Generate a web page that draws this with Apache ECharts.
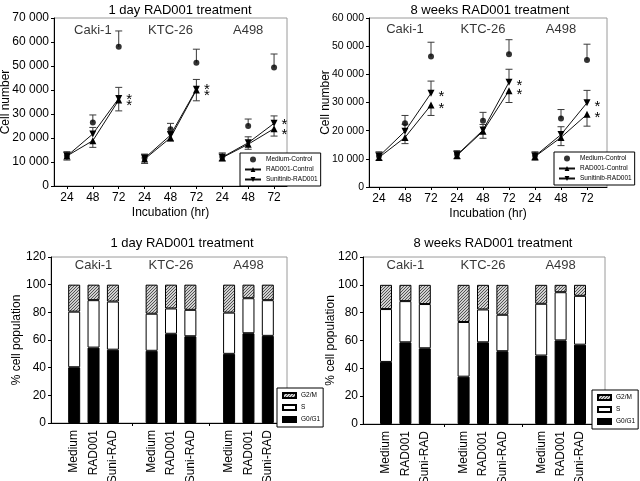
<!DOCTYPE html>
<html>
<head>
<meta charset="utf-8">
<script src="https://cdn.jsdelivr.net/npm/echarts@6/dist/echarts.min.js"></script>
<style>
  html, body { margin: 0; padding: 0; background: #fff; }
  #main { width: 640px; height: 481px; }
</style>
</head>
<body>
<div id="main"></div>
<script>
const FONT = "'Liberation Sans', Arial, sans-serif";

const cellLines = ['Caki-1', 'KTC-26', 'A498'];
const hourLabels = ['24', '48', '72'];
const treatLabels = ['Medium', 'RAD001', 'Suni-RAD'];
const growthNames = ['Medium-Control', 'RAD001-Control', 'Sunitinib-RAD001'];
const phaseNames = ['G0/G1', 'S', 'G2/M'];

// cell numbers, 24/48/72 h for Caki-1, KTC-26, A498
const dayMedium = [12600, 26500, 58000, 11800, 23600, 51400, 12200, 25000, 49400];
const dayMediumErr = [1700, 3100, 6600, 1500, 2500, 5600, 1600, 2900, 5600];
const dayRad = [12500, 18900, 35800, 11200, 20100, 40000, 11800, 17400, 23900];
const dayRadErr = [1700, 2800, 4500, 1800, 1400, 4500, 1400, 2100, 3100];
const daySuni = [12500, 21700, 36500, 11600, 21200, 40300, 12000, 18000, 26100];
const daySuniErr = [1500, 2700, 4600, 1500, 1500, 4100, 1300, 2500, 3100];

const weekMedium = [11000, 22600, 46300, 11600, 23500, 47100, 11200, 24300, 45100];
const weekMediumErr = [1500, 2800, 5100, 1300, 3000, 5200, 1300, 3200, 5600];
const weekRad = [10500, 17600, 29100, 11200, 19800, 34200, 10800, 17600, 25800];
const weekRadErr = [1000, 2200, 3700, 1200, 2500, 4200, 1300, 2900, 4200];
const weekSuni = [10900, 19800, 33300, 11400, 20200, 37200, 11000, 18600, 29900];
const weekSuniErr = [1300, 2500, 4300, 1200, 2000, 4600, 1100, 2800, 4400];

// cell cycle %, Medium/RAD001/Suni-RAD for Caki-1, KTC-26, A498
const dayG0G1 = [40.3, 54.5, 53.0, 52.2, 64.5, 62.7, 50.0, 64.9, 63.0];
const dayS = [40.2, 34.3, 34.8, 26.8, 18.3, 19.1, 29.8, 25.3, 25.8];
const dayG2M = [19.5, 11.2, 12.2, 21.0, 17.2, 18.2, 20.2, 9.8, 11.2];
const weekG0G1 = [44.6, 58.7, 54.4, 34.0, 58.7, 52.3, 49.2, 60.1, 57.0];
const weekS = [38.0, 29.6, 31.8, 39.3, 23.6, 26.2, 37.2, 34.6, 35.1];
const weekG2M = [17.4, 11.7, 13.8, 26.7, 17.7, 21.5, 13.6, 5.3, 7.9];

// hatch for G2/M
const hatch = document.createElement('canvas');
hatch.width = 3; hatch.height = 3;
const hc = hatch.getContext('2d');
hc.fillStyle = '#d0d0d0';
hc.fillRect(0, 0, 3, 3);
hc.strokeStyle = '#333';
hc.lineWidth = 0.8;
hc.beginPath();
hc.moveTo(0, 3); hc.lineTo(3, 0);
hc.moveTo(-1, 1); hc.lineTo(1, -1);
hc.moveTo(2, 4); hc.lineTo(4, 2);
hc.stroke();

const grids = [], xAxes = [], yAxes = [], series = [], titles = [], legends = [];

function fmtNum(v) {
	return String(v).replace(/\B(?=(\d{3})+(?!\d))/g, ' ');
}

// frame grid (border + visible y axis + x axis line) and a data grid inside it
function addPanel(p) {
	const fi = grids.length;
	grids.push({ left: p.left, top: p.top, width: p.width, height: p.height, show: true, borderColor: '#9a9a9a', borderWidth: 1, outerBoundsMode: 'none' });
	xAxes.push({
		gridIndex: fi, type: 'value', min: 0, max: 1,
		axisLine: { show: true, lineStyle: { color: '#000', width: 1 } },
		axisTick: { show: false }, axisLabel: { show: false }, splitLine: { show: false },
		name: p.xName || '', nameLocation: 'middle', nameGap: p.xNameGap || 0, nameMoveOverlap: false,
		nameTextStyle: { fontSize: 12, color: '#000', fontFamily: FONT }
	});
	yAxes.push({
		gridIndex: fi, type: 'value', min: 0, max: p.max, interval: p.interval,
		axisLine: { show: true, lineStyle: { color: '#000', width: 1 } },
		axisTick: { show: true, length: 3, lineStyle: { color: '#000' } },
		axisLabel: { color: '#000', fontSize: p.labelSize || 12, margin: 5, fontFamily: FONT, formatter: fmtNum },
		splitLine: { show: false },
		name: p.yName, nameLocation: 'middle', nameGap: p.yNameGap, nameMoveOverlap: false,
		nameTextStyle: { fontSize: 12, color: '#000', fontFamily: FONT }
	});
	const di = grids.length;
	grids.push({ left: p.dataLeft, top: p.top, width: p.dataWidth, height: p.height, outerBoundsMode: 'none' });
	xAxes.push({
		gridIndex: di, type: 'category', data: p.cats, boundaryGap: true,
		axisLine: { show: false },
		axisTick: { show: true, alignWithLabel: true, length: 3, lineStyle: { color: '#000' }, interval: p.tickInterval || 0 },
		axisLabel: { color: '#000', fontSize: 12, fontFamily: FONT, margin: p.xLabelMargin || 6, rotate: p.rotate || 0, interval: 0 },
		splitLine: { show: false }
	});
	yAxes.push({ gridIndex: di, type: 'value', min: 0, max: p.max, show: false, splitLine: { show: false } });
	titles.push({
		text: p.title, left: p.titleX, top: p.titleY, textAlign: 'center',
		textStyle: { fontSize: 13, fontWeight: 'normal', color: '#000', fontFamily: FONT }
	});
	// cell-line names
	series.push({
		type: 'scatter', xAxisIndex: di, yAxisIndex: di, symbolSize: 0, silent: true,
		data: p.nameAt.map((c, i) => ({ value: [c, p.nameY], name: cellLines[i] })),
		label: { show: true, position: 'inside', formatter: '{b}', fontSize: 13, color: '#000', fontFamily: FONT }
	});
	return di;
}

function renderErr(params, api) {
	const x = api.value(0), y = api.value(1);
	const e = api.value(2) * api.value(3);
	const p0 = api.coord([x, y]);
	const p1 = api.coord([x, y + e]);
	const st = { stroke: '#3a3a3a', lineWidth: 1 };
	return {
		type: 'group', children: [
			{ type: 'line', shape: { x1: p0[0], y1: p0[1], x2: p1[0], y2: p1[1] }, style: st },
			{ type: 'line', shape: { x1: p1[0] - 3.5, y1: p1[1], x2: p1[0] + 3.5, y2: p1[1] }, style: st }
		]
	};
}

const downTri = 'path://M0,0L10,0L5,9Z';

function addGrowth(gi, name, values, errs, dir, kind, starDy) {
	series.push({
		type: 'custom', xAxisIndex: gi, yAxisIndex: gi, silent: true, z: 1,
		renderItem: renderErr, encode: { x: 0, y: 1 },
		data: values.map((v, i) => [i, v, errs[i], dir])
	});
	for (let g = 0; g < 3; g++) {
		const pts = [0, 1, 2].map(k => [g * 3 + k, values[g * 3 + k]]);
		if (kind === 'dot') {
			series.push({
				type: 'scatter', name: name, xAxisIndex: gi, yAxisIndex: gi, z: 3,
				symbol: 'circle', symbolSize: 6, itemStyle: { color: '#000' }, data: pts
			});
		} else {
			series.push({
				type: 'line', name: name, xAxisIndex: gi, yAxisIndex: gi, z: 3,
				symbol: kind === 'up' ? 'triangle' : downTri, symbolSize: 7, showSymbol: true,
				itemStyle: { color: '#000' }, lineStyle: { color: '#111', width: 1 },
				data: pts,
				label: {
					show: true, position: 'right', distance: 4, offset: [0, starDy],
					formatter: p => p.dataIndex === 2 ? '*' : '',
					fontSize: 15, color: '#000', fontFamily: FONT
				}
			});
		}
	}
}

function withGaps(arr) {
	const out = [];
	arr.forEach((v, i) => {
		if (i > 0 && i % 3 === 0) out.push('-');
		out.push(v);
	});
	return out;
}

function addPhases(gi, g0, s, g2) {
	const common = { type: 'bar', xAxisIndex: gi, yAxisIndex: gi, stack: 'cc' + gi, barWidth: 12 };
	series.push(Object.assign({ name: 'G0/G1', data: withGaps(g0), itemStyle: { color: '#000', borderColor: '#000', borderWidth: 1 } }, common));
	series.push(Object.assign({ name: 'S', data: withGaps(s), itemStyle: { color: '#fff', borderColor: '#000', borderWidth: 1 } }, common));
	series.push(Object.assign({ name: 'G2/M', data: withGaps(g2), itemStyle: { color: { image: hatch, repeat: 'repeat' }, borderColor: '#000', borderWidth: 1 } }, common));
}

const lineCats = [];
cellLines.forEach(() => hourLabels.forEach(h => lineCats.push(h)));
const barCats = [];
cellLines.forEach((c, i) => {
	if (i > 0) barCats.push('');
	treatLabels.forEach(t => barCats.push(t));
});

// top left
const g1 = addPanel({
	left: 54, top: 18, width: 233, height: 168, dataLeft: 54, dataWidth: 233,
	max: 70000, interval: 10000, cats: lineCats,
	yName: 'Cell number', yNameGap: 42, xName: 'Incubation (hr)', xNameGap: 21,
	title: '1 day RAD001 treatment', titleX: 175, titleY: -1,
	nameAt: [1, 4, 7], nameY: 65000
});
addGrowth(g1, growthNames[0], dayMedium, dayMediumErr, 1, 'dot', 0);
addGrowth(g1, growthNames[1], dayRad, dayRadErr, -1, 'up', 6);
addGrowth(g1, growthNames[2], daySuni, daySuniErr, 1, 'down', 1);

// top right
const g2 = addPanel({
	left: 369, top: 18, width: 238, height: 169, dataLeft: 366, dataWidth: 234,
	max: 60000, interval: 10000, cats: lineCats, labelSize: 10.5,
	yName: 'Cell number', yNameGap: 37, xName: 'Incubation (hr)', xNameGap: 21,
	title: '8 weeks RAD001 treatment', titleX: 485, titleY: -1,
	nameAt: [1, 4, 7], nameY: 55800
});
addGrowth(g2, growthNames[0], weekMedium, weekMediumErr, 1, 'dot', 0);
addGrowth(g2, growthNames[1], weekRad, weekRadErr, -1, 'up', 4);
addGrowth(g2, growthNames[2], weekSuni, weekSuniErr, 1, 'down', 4);

// bottom left
const g3 = addPanel({
	left: 51, top: 257, width: 236, height: 166, dataLeft: 64.5, dataWidth: 213,
	max: 120, interval: 20, cats: barCats, rotate: 90, xLabelMargin: 7,
	tickInterval: (idx, val) => val === '',
	yName: '% cell population', yNameGap: 28,
	title: '1 day RAD001 treatment', titleX: 177, titleY: 232,
	nameAt: [1, 5, 9], nameY: 114
});
addPhases(g3, dayG0G1, dayS, dayG2M);

// bottom right
const g4 = addPanel({
	left: 363, top: 257, width: 242, height: 167, dataLeft: 376.3, dataWidth: 213.4,
	max: 120, interval: 20, cats: barCats, rotate: 90, xLabelMargin: 7,
	tickInterval: (idx, val) => val === '',
	yName: '% cell population', yNameGap: 26,
	title: '8 weeks RAD001 treatment', titleX: 488, titleY: 232,
	nameAt: [1, 5, 9], nameY: 114
});
addPhases(g4, weekG0G1, weekS, weekG2M);

const lineLegend = {
	orient: 'vertical', data: growthNames, backgroundColor: '#fff',
	borderColor: '#000', borderWidth: 1, borderRadius: 0, padding: [3, 3, 3, 4],
	itemWidth: 16, itemHeight: 6, itemGap: 3, selectedMode: false,
	textStyle: { fontSize: 6.5, color: '#000', fontFamily: FONT }
};
legends.push(Object.assign({ left: 240, top: 153 }, lineLegend));
legends.push(Object.assign({ left: 554, top: 152 }, lineLegend));
const barLegend = {
	orient: 'vertical', data: ['G2/M', 'S', 'G0/G1'], icon: 'rect', backgroundColor: '#fff',
	borderColor: '#000', borderWidth: 1, borderRadius: 0, padding: [4, 3, 4, 5],
	itemWidth: 13, itemHeight: 5, itemGap: 5, selectedMode: false,
	textStyle: { fontSize: 6.5, color: '#000', fontFamily: FONT }
};
legends.push(Object.assign({ left: 277, top: 388 }, barLegend));
legends.push(Object.assign({ left: 592, top: 390 }, barLegend));

const chart = echarts.init(document.getElementById('main'), null, { renderer: 'canvas' });
chart.setOption({
	backgroundColor: '#fff',
	animation: false,
	textStyle: { fontFamily: FONT },
	title: titles,
	legend: legends,
	grid: grids,
	xAxis: xAxes,
	yAxis: yAxes,
	series: series
});
</script>
</body>
</html>
